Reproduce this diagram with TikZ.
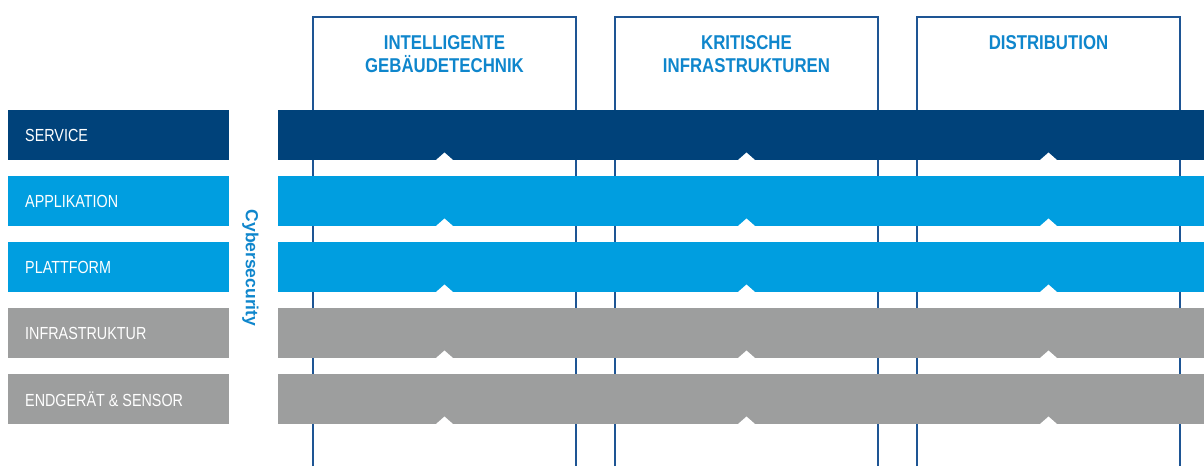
\documentclass[tikz,border=0pt]{standalone}
\usepackage{fontspec}
\setmainfont{Liberation Sans}
\newfontfamily\condfont[FakeStretch=0.82]{Liberation Sans}
\newfontfamily\headfont[FakeStretch=0.84]{Liberation Sans}
\definecolor{navy}{HTML}{00427A}
\definecolor{skyblue}{HTML}{009EE0}
\definecolor{stone}{HTML}{9D9E9E}
\definecolor{frame}{HTML}{1E5594}
\definecolor{headblue}{HTML}{0F86CC}
\begin{document}
\begin{tikzpicture}[x=1pt,y=-1pt,
  colframe/.style={draw=frame,line width=2pt},
  layerbox/.style={anchor=north west,inner sep=0pt,outer sep=0pt,minimum height=50pt},
  layerlabel/.style={anchor=west,inner sep=0pt,text=white,font=\condfont\fontsize{17.5}{20}\selectfont},
  headtext/.style={anchor=north,inner sep=0pt,align=center,text=headblue,
    font=\headfont\bfseries\fontsize{20}{23}\selectfont},
  notch/.style={fill=white}]
\useasboundingbox (0,0) rectangle (1204,466);

% application columns
\foreach \l/\r [count=\i] in {313/576,615/878,917/1180}{
  \draw[colframe] (\l,466) -- (\l,17) -- (\r,17) -- (\r,466);
  \coordinate (col\i) at ({(\l+\r)/2},0);
}
\node[headtext] (h1) at (444.5,35.5) {INTELLIGENTE\\GEBÄUDETECHNIK};
\node[headtext] (h2) at (746.5,35.5) {KRITISCHE\\INFRASTRUKTUREN};
\node[headtext] (h3) at (1048.5,35.5) {DISTRIBUTION};

% layers: label box on the left, band across the columns
\foreach \name/\txt/\col [count=\i from 0] in
  {svc/SERVICE/navy, app/APPLIKATION/skyblue, plat/PLATTFORM/skyblue,
   infra/INFRASTRUKTUR/stone, dev/ENDGERÄT \& SENSOR/stone}{
  \pgfmathsetmacro{\top}{110+66*\i}
  \node[layerbox,fill=\col,minimum width=221pt] (\name box) at (8,\top) {};
  \node[layerbox,fill=\col,minimum width=926pt] (\name band) at (278,\top) {};
  \node[layerlabel] (\name label) at ([xshift=17pt]\name box.west) {\txt};
  \foreach \c in {1,2,3}{
    \fill[notch] ([xshift=-8.5pt]\name band.south -| col\c) -- ++(8.5,-7.5) -- ++(8.5,7.5) -- ++(0,1) -- ++(-17,0) -- cycle;
  }
}

\node[rotate=-90,inner sep=0pt,text=headblue,font=\bfseries\fontsize{17.5}{20}\selectfont]
  (cyber) at (250.5,268) {Cybersecurity};
\end{tikzpicture}
\end{document}
